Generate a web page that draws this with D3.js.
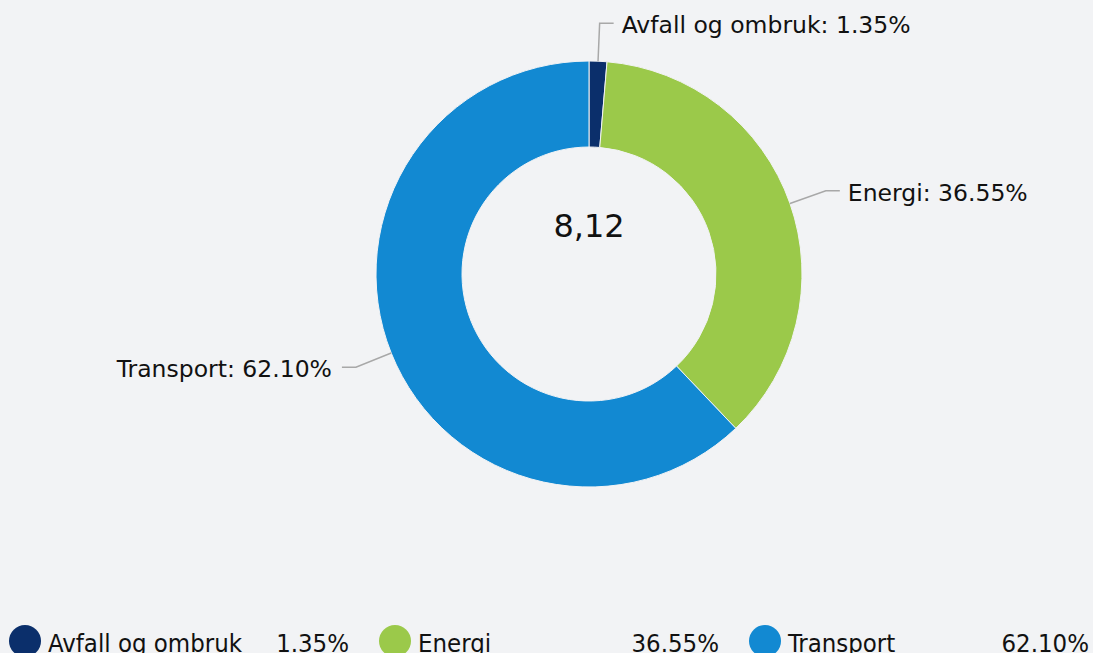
<!DOCTYPE html>
<html>
<head>
<meta charset="utf-8">
<script src="https://cdn.jsdelivr.net/npm/d3@7"></script>
<style>
  html, body { margin: 0; padding: 0; background: #F2F3F5; overflow: hidden; }
  svg { display: block; font-family: "DejaVu Sans", Verdana, sans-serif; }
</style>
</head>
<body>
<div id="chart"></div>
<script>
const categories = ["Avfall og ombruk", "Energi", "Transport"];
const shares = [1.35, 36.55, 62.10];
const colors = ["#0B2F6B", "#9BC94A", "#1289D2"];
const centerLabel = "8,12";

const width = 1093, height = 653;
const cx = 589, cy = 274;
const outerR = 213, innerR = 127;

const data = categories.map((c, i) => ({ name: c, value: shares[i], color: colors[i] }));

const svg = d3.select("#chart").append("svg")
  .attr("width", width)
  .attr("height", height)
  .style("background-color", "#F2F3F5");

const g = svg.append("g").attr("transform", `translate(${cx},${cy})`);

const pie = d3.pie().value(d => d.value).sort(null);
const arcs = pie(data);
const arc = d3.arc().innerRadius(innerR).outerRadius(outerR);

// Donut slices
g.selectAll(".slice")
  .data(arcs)
  .enter()
  .append("path")
  .attr("class", "slice")
  .attr("d", arc)
  .attr("fill", d => d.data.color)
  .attr("stroke", "#F2F3F5")
  .attr("stroke-width", 1);

// Leader lines and labels
const elbowR = 251;
const point = (a, r) => [r * Math.sin(a), -r * Math.cos(a)];

arcs.forEach(d => {
  const mid = (d.startAngle + d.endAngle) / 2;
  const right = Math.sin(mid) >= 0;
  const p0 = point(mid, outerR);
  const p1 = point(mid, elbowR);
  const p2 = [p1[0] + (right ? 14 : -14), p1[1]];
  g.append("polyline")
    .attr("points", [p0, p1, p2].map(p => p.join(",")).join(" "))
    .attr("fill", "none")
    .attr("stroke", "#A8A8A8")
    .attr("stroke-width", 1.5);
  g.append("text")
    .attr("x", p2[0] + (right ? 8 : -10))
    .attr("y", p2[1] + 2)
    .attr("dy", "0.35em")
    .attr("text-anchor", right ? "start" : "end")
    .attr("font-size", "23.5px")
    .attr("fill", "#111")
    .text(`${d.data.name}: ${d.data.value.toFixed(2)}%`);
});

// Center value
g.append("text")
  .attr("x", 0)
  .attr("y", -48)
  .attr("dy", "0.35em")
  .attr("text-anchor", "middle")
  .attr("font-size", "32px")
  .attr("fill", "#111")
  .text(centerLabel);

// Legend
const legendX = d3.scaleBand().domain(categories).range([5, 5 + 370 * 3]);
const legend = svg.append("g").attr("transform", "translate(0,641)");
const items = legend.selectAll(".legend-item")
  .data(data)
  .enter()
  .append("g")
  .attr("class", "legend-item")
  .attr("transform", d => `translate(${legendX(d.name)},0)`);

items.append("circle")
  .attr("cx", 20)
  .attr("cy", 0)
  .attr("r", 16)
  .attr("fill", d => d.color);

items.append("text")
  .attr("x", 43)
  .attr("y", 11)
  .attr("font-family", "'DejaVu Sans Condensed', 'DejaVu Sans', sans-serif")
  .attr("font-size", "25.5px")
  .attr("fill", "#111")
  .text(d => d.name);

items.append("text")
  .attr("x", 344)
  .attr("y", 11)
  .attr("text-anchor", "end")
  .attr("font-family", "'DejaVu Sans Condensed', 'DejaVu Sans', sans-serif")
  .attr("font-size", "25.5px")
  .attr("fill", "#111")
  .text(d => d.value.toFixed(2) + "%");
</script>
</body>
</html>
